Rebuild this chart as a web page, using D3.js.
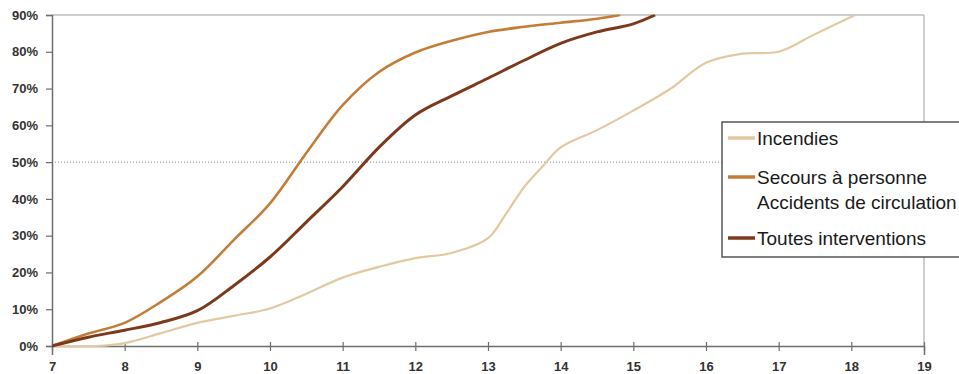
<!DOCTYPE html>
<html>
<head>
<meta charset="utf-8">
<script src="https://cdn.jsdelivr.net/npm/d3@7"></script>
<style>
  body { margin: 0; background: #fff; }
  svg { display: block; font-family: "Liberation Sans", Arial, sans-serif; }
</style>
</head>
<body>
<div id="chart"></div>
<script>
// hours (x) and cumulative share of interventions (%)
const incendiesT = [7, 7.6, 8, 8.5, 9, 9.5, 10, 10.5, 11, 11.5, 12, 12.5, 13, 13.25, 13.5, 13.75, 14, 14.5, 15, 15.5, 16, 16.5, 17, 17.5, 18.05];
const incendiesV = [0, 0, 0.8, 3.5, 6.3, 8.2, 10.2, 14.2, 18.6, 21.5, 23.9, 25.3, 29.3, 36, 43.3, 48.8, 54, 58.7, 64, 69.8, 77, 79.5, 80, 84.8, 90];

const secoursT = [7, 7.5, 8, 8.5, 9, 9.5, 10, 10.5, 11, 11.5, 12, 12.5, 13, 13.5, 14, 14.5, 14.82];
const secoursV = [0, 3.4, 6.3, 12, 18.9, 28.8, 38.8, 52.5, 65.5, 74.5, 79.8, 83, 85.4, 86.8, 87.9, 89, 90];

const toutesT = [7, 7.5, 8, 8.5, 9, 9.5, 10, 10.5, 11, 11.5, 12, 12.5, 13, 13.5, 14, 14.5, 15, 15.3];
const toutesV = [0, 2.4, 4.3, 6.4, 9.6, 16.4, 24.2, 33.7, 43.3, 54, 62.8, 68, 72.8, 77.7, 82.3, 85.4, 87.6, 90];

const seriesNames = ["Incendies", "Secours à personne|Accidents de circulation", "Toutes interventions"];
const seriesColors = ["#e2c9a2", "#c47d38", "#7c3a1c"];
const xTicks = d3.range(7, 20);
const yTicks = d3.range(0, 100, 10);

const width = 959, height = 374;
const margin = {top: 15, right: 35, bottom: 28, left: 52};
const iw = width - margin.left - margin.right;
const ih = height - margin.top - margin.bottom;

const svg = d3.select("#chart").append("svg")
    .attr("width", width)
    .attr("height", height);

const x = d3.scaleLinear().domain([7, 19]).range([margin.left, margin.left + iw]);
const y = d3.scaleLinear().domain([0, 90]).range([margin.top + ih, margin.top]);

// frame on top and right
svg.append("line")
    .attr("x1", x(7)).attr("x2", x(19))
    .attr("y1", y(90)).attr("y2", y(90))
    .attr("stroke", "#bdbdbd").attr("stroke-width", 1.5);
svg.append("line")
    .attr("x1", x(19)).attr("x2", x(19))
    .attr("y1", y(90)).attr("y2", y(0))
    .attr("stroke", "#bdbdbd").attr("stroke-width", 1.5);

// 50% dotted reference
svg.append("line")
    .attr("x1", x(7)).attr("x2", 722)
    .attr("y1", y(50)).attr("y2", y(50))
    .attr("stroke", "#8a8a8a").attr("stroke-width", 1)
    .attr("stroke-dasharray", "1,2");

// y axis
const yAxis = svg.append("g")
    .attr("transform", `translate(${margin.left},0)`)
    .call(d3.axisLeft(y).tickValues(yTicks).tickSize(6).tickPadding(8).tickFormat(d => d + "%"));
yAxis.select(".domain").attr("stroke", "#6e6e6e").attr("stroke-width", 1.5);
yAxis.selectAll(".tick line").attr("stroke", "#6e6e6e").attr("stroke-width", 1.2);
yAxis.selectAll("text")
    .attr("fill", "#333").attr("font-size", 13).attr("font-weight", "bold")
    .attr("font-family", "Liberation Sans, Arial, sans-serif");

// x axis, ticks crossing the line
const xAxis = svg.append("g")
    .attr("transform", `translate(0,${y(0)})`)
    .call(d3.axisBottom(x).tickValues(xTicks).tickSize(9).tickPadding(13).tickFormat(d3.format("d")));
xAxis.select(".domain").attr("stroke", "#6e6e6e").attr("stroke-width", 1.5);
xAxis.selectAll(".tick line").attr("stroke", "#6e6e6e").attr("stroke-width", 1.2).attr("y1", -4).attr("y2", 5);
xAxis.selectAll("text")
    .attr("fill", "#333").attr("font-size", 13).attr("font-weight", "bold")
    .attr("font-family", "Liberation Sans, Arial, sans-serif")
    .attr("dy", "0.2em");

// curves
svg.append("clipPath").attr("id", "plot")
  .append("rect")
    .attr("x", x(7)).attr("y", y(90) - 0.5)
    .attr("width", iw).attr("height", ih + 2);

const line = d3.line()
    .x(d => x(d[0]))
    .y(d => y(d[1]))
    .curve(d3.curveCatmullRom.alpha(0.5));

const series = [
    {t: incendiesT, v: incendiesV, w: 2.2},
    {t: secoursT, v: secoursV, w: 2.6},
    {t: toutesT, v: toutesV, w: 3}
];

series.forEach((s, i) => {
    svg.append("path")
        .datum(s.t.map((t, j) => [t, s.v[j]]))
        .attr("clip-path", "url(#plot)")
        .attr("fill", "none")
        .attr("stroke", seriesColors[i])
        .attr("stroke-width", s.w)
        .attr("stroke-linejoin", "round")
        .attr("d", line);
});

// legend
const lg = svg.append("g");
lg.append("rect")
    .attr("x", 722).attr("y", 122)
    .attr("width", 260).attr("height", 135)
    .attr("fill", "#fff")
    .attr("stroke", "#555").attr("stroke-width", 1.5);

const rowY = [138, 177, 238];
seriesNames.forEach((name, i) => {
    lg.append("line")
        .attr("x1", 728).attr("x2", 755)
        .attr("y1", rowY[i]).attr("y2", rowY[i])
        .attr("stroke", seriesColors[i]).attr("stroke-width", 3.5);
    const parts = name.split("|");
    parts.forEach((p, k) => {
        lg.append("text")
            .attr("x", 757)
            .attr("y", rowY[i] + 7 + k * 25)
            .attr("font-size", 19)
            .attr("fill", "#1a1a1a")
            .text(p);
    });
});
</script>
</body>
</html>
